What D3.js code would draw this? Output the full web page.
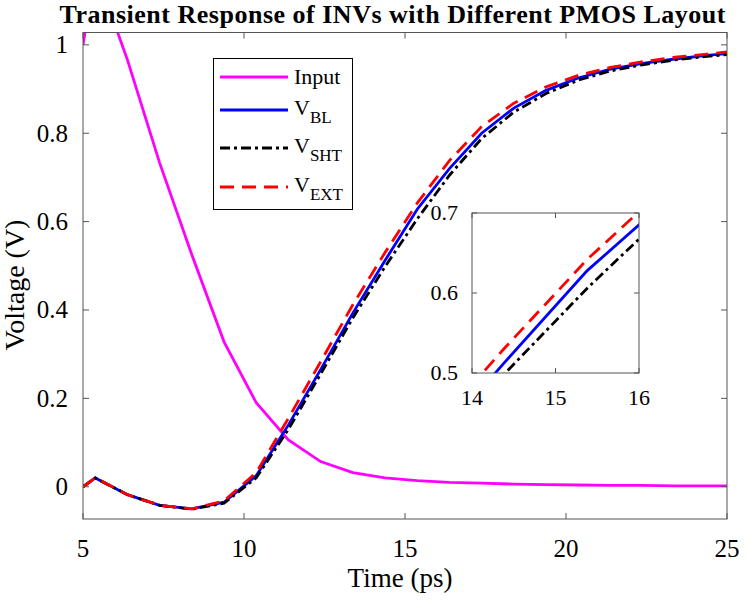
<!DOCTYPE html>
<html>
<head>
<meta charset="utf-8">
<script src="https://cdn.jsdelivr.net/npm/d3@7"></script>
<style>
  body { margin: 0; background: #fff; }
  text { font-family: "Liberation Serif", "Times New Roman", serif; fill: #000; }
</style>
</head>
<body>
<div id="chart"></div>
<script>
// time samples (ps)
const time = [5, 5.38, 6.38, 7.38, 8.38, 9.38, 10.38, 11.38, 12.38, 13.38, 14.38,
              15.38, 16.38, 17.38, 18.38, 19.38, 20.38, 21.38, 22.38, 23.38, 24.38, 25];

// voltages (V)
const input = [1.0, 1.17, 0.966, 0.733, 0.525, 0.328, 0.19, 0.106, 0.057, 0.032, 0.02,
               0.014, 0.01, 0.008, 0.006, 0.005, 0.004, 0.003, 0.003, 0.002, 0.002, 0.002];
const vBL  = [0, 0.02, -0.018, -0.042, -0.05, -0.035, 0.025, 0.14, 0.265, 0.393, 0.512,
              0.628, 0.72, 0.80, 0.857, 0.897, 0.925, 0.945, 0.958, 0.968, 0.976, 0.98];
const vSHT = [0, 0.02, -0.018, -0.042, -0.051, -0.037, 0.02, 0.13, 0.255, 0.382, 0.498,
              0.606, 0.705, 0.788, 0.848, 0.89, 0.92, 0.941, 0.955, 0.966, 0.974, 0.978];
const vEXT = [0, 0.02, -0.018, -0.042, -0.05, -0.032, 0.032, 0.155, 0.283, 0.412, 0.53,
              0.642, 0.738, 0.815, 0.868, 0.905, 0.931, 0.949, 0.962, 0.972, 0.979, 0.984];

const xTicks = [5, 10, 15, 20, 25];
const yTicks = [0, 0.2, 0.4, 0.6, 0.8, 1];
const insetXTicks = [14, 15, 16];
const insetYTicks = [0.5, 0.6, 0.7];

const series = [
  { key: "Input", sub: "",    values: input, color: "#ff00ff", dash: null },
  { key: "V",     sub: "BL",  values: vBL,   color: "#0000ff", dash: null },
  { key: "V",     sub: "SHT", values: vSHT,  color: "#000000", dash: "10,4,3,4" },
  { key: "V",     sub: "EXT", values: vEXT,  color: "#ff0000", dash: "14,8" }
];

const width = 747, height = 600;
const margin = { top: 32.5, right: 20, bottom: 81, left: 83 };

const svg = d3.select("#chart").append("svg")
    .attr("width", width)
    .attr("height", height);

const x = d3.scaleLinear().domain([5, 25]).range([margin.left, width - margin.right]);
const y = d3.scaleLinear().domain([-0.073, 1.028]).range([height - margin.bottom, margin.top]);

// clip for main plot
svg.append("clipPath").attr("id", "clipMain")
  .append("rect")
    .attr("x", x.range()[0]).attr("y", y.range()[1])
    .attr("width", x.range()[1] - x.range()[0])
    .attr("height", y.range()[0] - y.range()[1]);

function drawAxes(g, xs, ys, xt, yt, tickLen, xLabelDy, yLabelDx, fontSize) {
  const [x0, x1] = xs.range();
  const [y0, y1] = ys.range();
  g.append("rect")
    .attr("x", x0).attr("y", y1).attr("width", x1 - x0).attr("height", y0 - y1)
    .attr("fill", "none").attr("stroke", "#555").attr("stroke-width", 1);
  xt.forEach(v => {
    g.append("line").attr("x1", xs(v)).attr("x2", xs(v)).attr("y1", y0).attr("y2", y0 - tickLen)
      .attr("stroke", "#555");
    g.append("line").attr("x1", xs(v)).attr("x2", xs(v)).attr("y1", y1).attr("y2", y1 + tickLen)
      .attr("stroke", "#555");
    g.append("text").attr("x", xs(v)).attr("y", y0 + xLabelDy)
      .attr("text-anchor", "middle").attr("font-size", fontSize).text(v);
  });
  yt.forEach(v => {
    g.append("line").attr("x1", x0).attr("x2", x0 + tickLen).attr("y1", ys(v)).attr("y2", ys(v))
      .attr("stroke", "#555");
    g.append("line").attr("x1", x1).attr("x2", x1 - tickLen).attr("y1", ys(v)).attr("y2", ys(v))
      .attr("stroke", "#555");
    g.append("text").attr("x", x0 - yLabelDx).attr("y", ys(v)).attr("dy", "0.34em")
      .attr("text-anchor", "end").attr("font-size", fontSize).text(v);
  });
}

function drawLines(g, xs, ys, clipId) {
  const line = d3.line()
    .x((d, i) => xs(time[i]))
    .y(d => ys(d));
  const lg = g.append("g").attr("clip-path", `url(#${clipId})`);
  series.forEach(s => {
    lg.append("path")
      .attr("d", line(s.values))
      .attr("fill", "none")
      .attr("stroke", s.color)
      .attr("stroke-width", 2.8)
      .attr("stroke-dasharray", s.dash);
  });
}

const main = svg.append("g");
drawLines(main, x, y, "clipMain");
drawAxes(main, x, y, xTicks, yTicks, 6, 38, 15, 25);

// title and axis labels
svg.append("text").attr("x", 392.5).attr("y", 23)
  .attr("text-anchor", "middle").attr("font-size", 26).attr("font-weight", "bold")
  .attr("textLength", 666).attr("lengthAdjust", "spacing")
  .text("Transient Response of INVs with Different PMOS Layout");
svg.append("text").attr("x", 400).attr("y", 587)
  .attr("text-anchor", "middle").attr("font-size", 27).text("Time (ps)");
svg.append("text")
  .attr("transform", "translate(24,285) rotate(-90)")
  .attr("text-anchor", "middle").attr("font-size", 28).text("Voltage (V)");

// legend
const legend = svg.append("g");
legend.append("rect").attr("x", 213.5).attr("y", 58.5).attr("width", 139).attr("height", 151)
  .attr("fill", "#fff").attr("stroke", "#000").attr("stroke-width", 1);
const legendY = [77, 110, 148, 187];
series.forEach((s, i) => {
  legend.append("line")
    .attr("x1", 220).attr("x2", 288).attr("y1", legendY[i]).attr("y2", legendY[i])
    .attr("stroke", s.color).attr("stroke-width", 2.8).attr("stroke-dasharray", s.dash);
  const t = legend.append("text").attr("x", 294).attr("font-size", 22);
  if (s.sub) {
    t.attr("y", legendY[i] + 5);
    t.append("tspan").text(s.key);
    t.append("tspan").attr("dy", 8).attr("font-size", 17).text(s.sub);
  } else {
    t.attr("y", legendY[i] + 7).text(s.key);
  }
});

// inset
const ix = d3.scaleLinear().domain([14, 16]).range([472, 639]);
const iy = d3.scaleLinear().domain([0.5, 0.7]).range([373, 213]);
svg.append("clipPath").attr("id", "clipInset")
  .append("rect").attr("x", 472).attr("y", 213).attr("width", 167).attr("height", 160);
const inset = svg.append("g");
inset.append("rect").attr("x", 472).attr("y", 213).attr("width", 167).attr("height", 160)
  .attr("fill", "#fff");
drawLines(inset, ix, iy, "clipInset");
drawAxes(inset, ix, iy, insetXTicks, insetYTicks, 5, 32, 14, 22);
</script>
</body>
</html>
